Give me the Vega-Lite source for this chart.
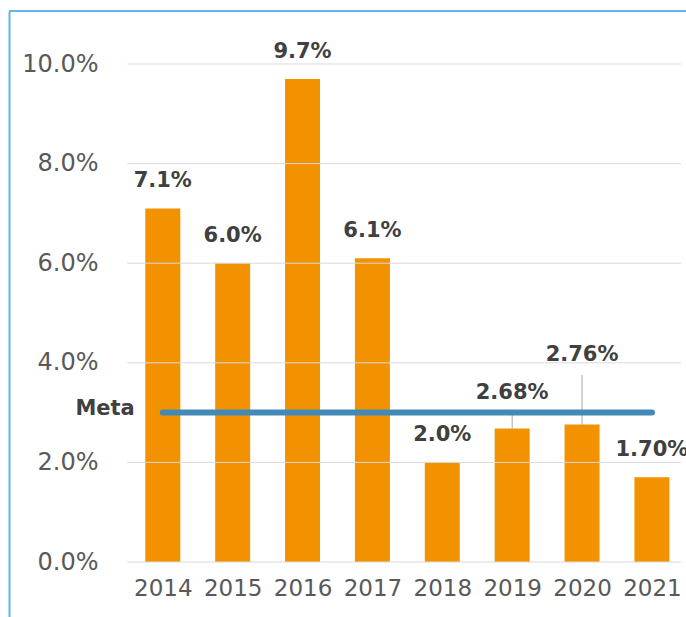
{
  "$schema": "https://vega.github.io/schema/vega-lite/v6.json",
  "autosize": "none",
  "padding": {"left": 9, "top": 11, "right": 0, "bottom": 0},
  "width": 677,
  "height": 606,
  "background": "white",
  "config": {"view": {"stroke": null}, "font": "DejaVu Sans"},
  "data": {
    "values": [
      {"year": 2014, "value": 7.1, "label": "7.1%"},
      {"year": 2015, "value": 6.0, "label": "6.0%"},
      {"year": 2016, "value": 9.7, "label": "9.7%"},
      {"year": 2017, "value": 6.1, "label": "6.1%"},
      {"year": 2018, "value": 2.0, "label": "2.0%"},
      {"year": 2019, "value": 2.68, "label": "2.68%"},
      {"year": 2020, "value": 2.76, "label": "2.76%"},
      {"year": 2021, "value": 1.70, "label": "1.70%"}
    ]
  },
  "layer": [
    {
      "mark": {"type": "bar", "size": 35, "color": "#F39200"},
      "encoding": {
        "x": {
          "field": "year", "type": "quantitative",
          "scale": {"domain": [2011.871, 2021.416], "nice": false, "zero": false},
          "axis": {
            "values": [2014, 2015, 2016, 2017, 2018, 2019, 2020, 2021],
            "format": "d", "title": null, "grid": false, "domain": false,
            "ticks": false, "tickSize": 0, "labelPadding": 26, "offset": -55,
            "labelFont": "DejaVu Sans", "labelFontSize": 23, "labelColor": "#595959",
            "labelBaseline": "middle", "labelFlush": false, "labelOverlap": false
          }
        },
        "y": {
          "field": "value", "type": "quantitative",
          "scale": {"domain": [-1.1044, 11.0643], "nice": false, "zero": false},
          "axis": {
            "values": [0, 2, 4, 6, 8, 10],
            "labelExpr": "format(datum.value, '.1f') + '%'",
            "title": null, "grid": false, "ticks": false, "tickSize": 0,
            "domain": true, "domainColor": "#62b6e6", "domainWidth": 2,
            "labelPadding": -89, "labelAlign": "right", "labelBaseline": "middle",
            "labelFont": "DejaVu Sans", "labelFontSize": 24, "labelColor": "#595959",
            "labelFlush": false, "labelOverlap": false
          }
        },
        "y2": {"datum": 0}
      }
    },
    {
      "data": {"values": [{"g": 0}, {"g": 2}, {"g": 4}, {"g": 6}, {"g": 8}, {"g": 10}]},
      "mark": {"type": "rule", "color": "#d9d9d9", "strokeWidth": 1},
      "encoding": {
        "y": {"field": "g", "type": "quantitative"},
        "x": {"datum": 2013.492},
        "x2": {"datum": 2021.416}
      }
    },
    {
      "data": {"values": [{}]},
      "mark": {"type": "rule", "color": "#62b6e6", "strokeWidth": 2},
      "encoding": {
        "y": {"datum": 11.0643}
      }
    },
    {
      "transform": [{"filter": "datum.year == 2019"}],
      "mark": {"type": "rule", "color": "#a6a6a6", "strokeWidth": 1},
      "encoding": {
        "x": {"field": "year", "type": "quantitative"},
        "y": {"field": "value", "type": "quantitative"},
        "y2": {"datum": 3.0}
      }
    },
    {
      "transform": [{"filter": "datum.year == 2020"}],
      "mark": {"type": "rule", "color": "#a6a6a6", "strokeWidth": 1},
      "encoding": {
        "x": {"field": "year", "type": "quantitative"},
        "y": {"field": "value", "type": "quantitative"},
        "y2": {"datum": 3.755}
      }
    },
    {
      "data": {"values": [{}]},
      "mark": {"type": "rule", "color": "#4289b8", "strokeWidth": 6, "strokeCap": "round"},
      "encoding": {
        "x": {"datum": 2014},
        "x2": {"datum": 2021},
        "y": {"datum": 3}
      }
    },
    {
      "data": {"values": [{"t": "Meta"}]},
      "mark": {"type": "text", "align": "right", "baseline": "middle", "dx": -28, "dy": -4, "font": "DejaVu Sans", "fontWeight": "bold", "fontSize": 21, "color": "#404040"},
      "encoding": {
        "x": {"datum": 2014},
        "y": {"datum": 3},
        "text": {"field": "t"}
      }
    },
    {
      "transform": [{"filter": "datum.year != 2019 && datum.year != 2020"}],
      "mark": {"type": "text", "align": "center", "baseline": "middle", "dy": -27, "font": "DejaVu Sans", "fontWeight": "bold", "fontSize": 21, "color": "#404040"},
      "encoding": {
        "x": {"field": "year", "type": "quantitative"},
        "y": {"field": "value", "type": "quantitative"},
        "text": {"field": "label"}
      }
    },
    {
      "transform": [{"filter": "datum.year == 2019"}],
      "mark": {"type": "text", "align": "center", "baseline": "middle", "dy": -36, "font": "DejaVu Sans", "fontWeight": "bold", "fontSize": 21, "color": "#404040"},
      "encoding": {
        "x": {"field": "year", "type": "quantitative"},
        "y": {"field": "value", "type": "quantitative"},
        "text": {"field": "label"}
      }
    },
    {
      "transform": [{"filter": "datum.year == 2020"}],
      "mark": {"type": "text", "align": "center", "baseline": "middle", "dy": -70, "font": "DejaVu Sans", "fontWeight": "bold", "fontSize": 21, "color": "#404040"},
      "encoding": {
        "x": {"field": "year", "type": "quantitative"},
        "y": {"field": "value", "type": "quantitative"},
        "text": {"field": "label"}
      }
    }
  ]
}
